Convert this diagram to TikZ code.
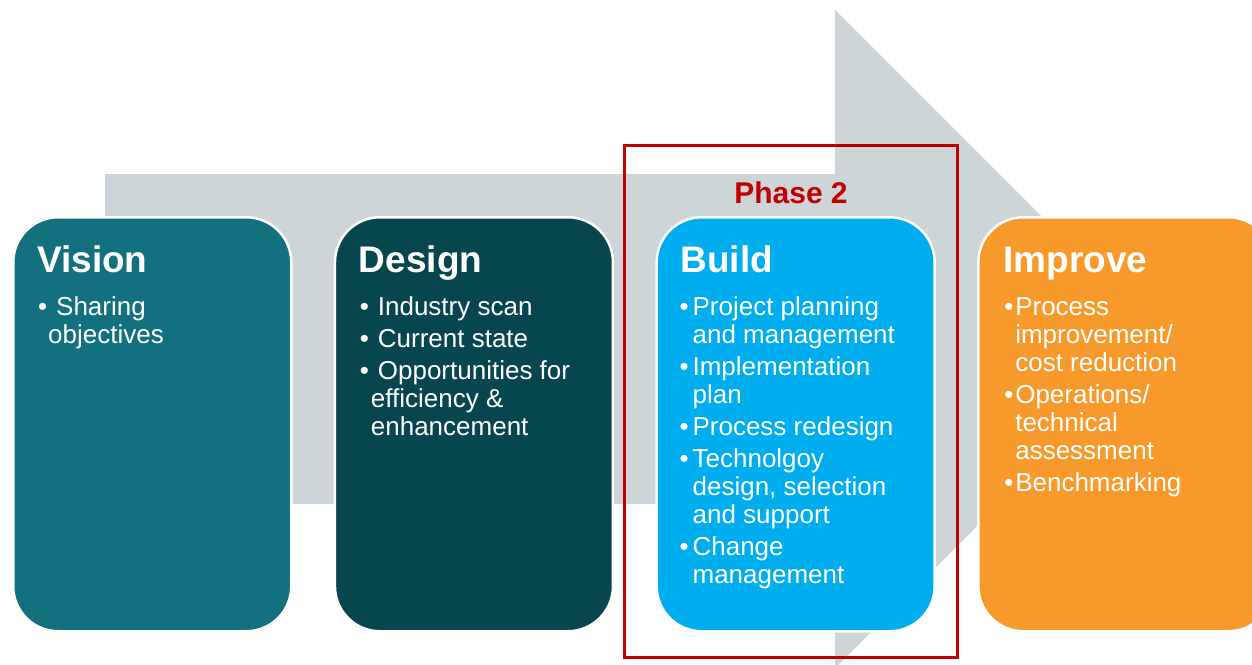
\documentclass[tikz,border=0pt]{standalone}
\usepackage{fontspec}
\setmainfont{Liberation Sans}
\usepackage{tikz}
\newcommand\Pitch{321.7}
\newcommand\blt[1]{\makebox[#1pt][l]{\textbullet}}
\newcommand\gap[1]{\hspace*{#1pt}}

\definecolor{arrowgrey}{HTML}{CDD5D8}
\definecolor{visionteal}{HTML}{13707F}
\definecolor{designteal}{HTML}{07464F}
\definecolor{buildblue}{HTML}{00ADEE}
\definecolor{improveorange}{HTML}{F7992B}
\definecolor{phasered}{HTML}{C00000}

\begin{document}
\begin{tikzpicture}[x=1pt,y=-1pt]

  \tikzstyle{stage}=[rectangle,rounded corners=45pt,draw=white,line width=2.5pt,
                     anchor=north west,minimum width=278pt,minimum height=414pt]
  \tikzstyle{title}=[anchor=base west,inner sep=0pt,text=white,
                     font=\fontsize{37}{40}\selectfont\bfseries]
  \tikzstyle{list}=[anchor=base west,inner sep=0pt,text=white,
                    font=\fontsize{26}{28}\selectfont]

  \useasboundingbox (0,0) rectangle (1252,664);
  \clip (0,0) rectangle (1252,664);

  % big grey arrow behind the stages
  \fill[arrowgrey] (105,174) -- (835,174) -- (835,10) -- (1164,339)
                   -- (835,668) -- (835,504) -- (105,504) -- cycle;

  \node[stage,fill=visionteal]    (vision)  at (12,216)          {};
  \node[stage,fill=designteal]    (design)  at (12+\Pitch,216)   {};
  \node[stage,fill=buildblue]     (build)   at (12+2*\Pitch,216) {};
  \node[stage,fill=improveorange,minimum width=295pt] (improve) at (12+3*\Pitch,216) {};

  \node[title] (visiontitle)  at ([xshift=25pt,yshift=-56pt]vision.north west)  {Vision};
  \node[title] (designtitle)  at ([xshift=25pt,yshift=-56pt]design.north west)  {Design};
  \node[title] (buildtitle)   at ([xshift=25pt,yshift=-56pt]build.north west)   {Build};
  \node[title] (improvetitle) at ([xshift=26pt,yshift=-56pt]improve.north west) {Improve};

  % bullet lists, first baseline on the anchor
  \node[list] (visionlist) at ([xshift=26pt,yshift=-99pt]vision.north west)
    {\begin{tabular}[t]{@{}l@{}}
     \blt{18}Sharing\\ \gap{10}objectives
     \end{tabular}};
  \node[list] (designlist) at ([xshift=26pt,yshift=-99pt]design.north west)
    {\begin{tabular}[t]{@{}l@{}}
     \blt{18}Industry scan\\[4pt] \blt{18}Current state\\[4pt] \blt{18}Opportunities for\\
     \gap{11}efficiency \&\\ \gap{11}enhancement
     \end{tabular}};
  \node[list] (buildlist) at ([xshift=24pt,yshift=-99pt]build.north west)
    {\begin{tabular}[t]{@{}l@{}}
     \blt{13}Project planning\\ \gap{13}and management\\[4pt] \blt{13}Implementation\\
     \gap{13}plan\\[4pt] \blt{13}Process redesign\\[4pt] \blt{13}Technolgoy\\
     \gap{13}design, selection\\ \gap{13}and support\\[4pt] \blt{13}Change\\ \gap{13}management
     \end{tabular}};
  \node[list] (improvelist) at ([xshift=27pt,yshift=-99pt]improve.north west)
    {\begin{tabular}[t]{@{}l@{}}
     \blt{11}Process\\ \gap{11}improvement/\\ \gap{11}cost reduction\\[4pt] \blt{11}Operations/\\
     \gap{11}technical\\ \gap{11}assessment\\[4pt] \blt{11}Benchmarking
     \end{tabular}};

  % frame round the current phase
  \draw[phasered,line width=3pt] (624,145) rectangle (957,657);
  \node[anchor=base,inner sep=0pt,text=phasered,font=\fontsize{30}{32}\selectfont\bfseries]
    (phaselabel) at (791,203) {Phase 2};

\end{tikzpicture}
\end{document}
